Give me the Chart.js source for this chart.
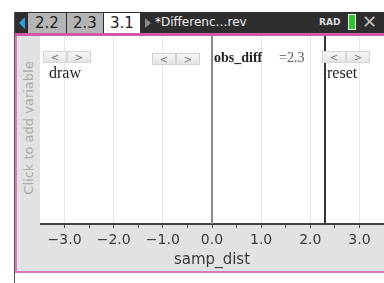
<!DOCTYPE html>
<html>
<head>
<meta charset="utf-8">
<script src="https://cdn.jsdelivr.net/npm/chart.js@4.4.0/dist/chart.umd.min.js"></script>
<style>
  html, body { margin: 0; padding: 0; background: #fff; }
  #screen { position: relative; width: 384px; height: 283px; overflow: hidden; background: #fff;
    font-family: 'DejaVu Sans', sans-serif; }
  #topbar { position: absolute; left: 14px; top: 12px; width: 370px; height: 21px; background: #2e2e2e; }
  #pinktop { position: absolute; left: 14px; top: 33px; width: 370px; height: 3px; background: #d05aa8; }
  .tab { position: absolute; top: 13px; height: 20px; background: #b5b5b5; color: #222; font-size: 15px;
    line-height: 21px; text-align: center; }
  #tab31 { background: #fff; }
  #arrowL { position: absolute; left: 19px; top: 17px; width: 0; height: 0;
    border-top: 6px solid transparent; border-bottom: 6px solid transparent; border-right: 6px solid #2aa0e0; }
  #arrowR { position: absolute; left: 145px; top: 18px; width: 0; height: 0;
    border-top: 5px solid transparent; border-bottom: 5px solid transparent; border-left: 6px solid #888; }
  #doc { position: absolute; left: 155px; top: 12px; color: #eee; font-size: 12px; line-height: 21px; }
  #rad { position: absolute; left: 319px; top: 12px; color: #ddd; font-size: 9px; line-height: 21px; font-weight: bold; }
  #batt { position: absolute; left: 348px; top: 14px; width: 6px; height: 14px; border: 1px solid #eee; background: #2fc52f; }
  #close { position: absolute; left: 362px; top: 11px; color: #bbb; font-size: 18px; line-height: 21px; }
  #leftline { position: absolute; left: 14px; top: 12px; width: 1px; height: 271px; background: #555; }
  #pinkleft { position: absolute; left: 15px; top: 36px; width: 2px; height: 237px; background: #d77bbd; }
  #side { position: absolute; left: 17px; top: 36px; width: 23px; height: 236px; background: #e2e2e2; }
  #sidetext { position: absolute; left: 28px; top: 128px; transform: translate(-50%, -50%) rotate(-90deg);
    color: #aaa; font-size: 13px; white-space: nowrap; }
  #pinkbottom { position: absolute; left: 15px; top: 271px; width: 369px; height: 2px; background: #d77bbd; }
  #plot { position: absolute; left: 40px; top: 36px; width: 344px; height: 235px; background: #e2e2e2; }
  #plot canvas { display: block; }
  .slider { position: absolute; height: 12px; display: flex; }
  .slider div { width: 24px; height: 12px; background: linear-gradient(#f6f6f6, #e4e4e4); border: 1px solid #d4d4d4;
    box-sizing: border-box; color: #777; font-size: 10px; line-height: 11px; text-align: center; }
  .lbl { position: absolute; font-family: 'Liberation Serif', 'DejaVu Serif', serif; color: #222; font-size: 16px; }
</style>
</head>
<body>
<div id="screen">
  <div id="topbar"></div>
  <div id="arrowL"></div>
  <div class="tab" style="left:28px;width:38px;">2.2</div>
  <div class="tab" style="left:67px;width:36px;">2.3</div>
  <div class="tab" id="tab31" style="left:104px;width:36px;">3.1</div>
  <div id="arrowR"></div>
  <div id="doc">*Differenc…rev</div>
  <div id="rad">RAD</div>
  <div id="batt"></div>
  <div id="close">✕</div>
  <div id="pinktop"></div>
  <div id="leftline"></div>
  <div id="side"></div>
  <div id="sidetext">Click to add variable</div>
  <div id="plot"><canvas id="c" width="344" height="235"></canvas></div>
  <div id="pinkleft"></div>
  <div id="pinkbottom"></div>

  <div class="slider" style="left:43px;top:51px;"><div>&lt;</div><div>&gt;</div></div>
  <div class="lbl" style="left:49px;top:64px;">draw</div>
  <div class="slider" style="left:152px;top:53px;"><div>&lt;</div><div>&gt;</div></div>
  <div class="lbl" style="left:214px;top:50px;font-size:14px;"><b>obs_diff</b></div>
  <div class="lbl" style="left:279px;top:50px;font-size:14px;color:#555;">=2.3</div>
  <div class="slider" style="left:322px;top:51px;"><div>&lt;</div><div>&gt;</div></div>
  <div class="lbl" style="left:327px;top:64px;">reset</div>
</div>

<script>
// axis window and labelled ticks
const xMin = -3.5;
const xMax = 3.5;
const xLabels = [-3, -2, -1, 0, 1, 2, 3];
const axisTitle = 'samp_dist';

// vertical reference lines: zero and the observed difference
const refValues = [0, 2.3];
const refColors = ['#8a8a8a', '#333333'];

const datasets = refValues.map((v, i) => ({
  data: [{ x: v, y: 0 }, { x: v, y: 1 }],
  borderColor: refColors[i],
  borderWidth: 2,
  pointRadius: 0,
  pointHoverRadius: 0,
  showLine: true
}));

// white plot area on a grey panel
const whiteArea = {
  id: 'whiteArea',
  beforeDraw(chart) {
    const { ctx, chartArea: a } = chart;
    ctx.save();
    ctx.fillStyle = '#ffffff';
    ctx.fillRect(a.left, a.top, a.right - a.left, a.bottom - a.top);
    ctx.restore();
  }
};

const isLabel = v => xLabels.some(t => Math.abs(t - v) < 1e-6);

new Chart(document.getElementById('c'), {
  type: 'scatter',
  data: { datasets },
  plugins: [whiteArea],
  options: {
    responsive: false,
    animation: false,
    devicePixelRatio: 1,
    layout: { padding: 0, autoPadding: false },
    plugins: { legend: { display: false }, tooltip: { enabled: false } },
    scales: {
      x: {
        type: 'linear',
        min: xMin,
        max: xMax,
        afterFit(scale) {
          scale.height = 47;
          scale.paddingLeft = 0;
          scale.paddingRight = 0;
        },
        border: { color: '#444', width: 2 },
        grid: {
          tickLength: 4,
          color: ctx => isLabel(ctx.tick.value) ? '#e6e6e6' : 'transparent',
          tickColor: ctx => Math.abs(ctx.tick.value) > 3.4 ? 'transparent' : '#444'
        },
        ticks: {
          stepSize: 0.5,
          autoSkip: false,
          maxRotation: 0,
          padding: 4,
          color: '#3a3a3a',
          font: { family: 'DejaVu Sans', size: 14 },
          callback: v => isLabel(v) ? (v < 0 ? '\u2212' : '') + Math.abs(v).toFixed(1) : ''
        },
        title: {
          display: true,
          text: axisTitle,
          color: '#3a3a3a',
          font: { family: 'DejaVu Sans', size: 15 },
          padding: { top: 0, bottom: 2 }
        }
      },
      y: { display: false, min: 0, max: 1 }
    }
  }
});
</script>
</body>
</html>
